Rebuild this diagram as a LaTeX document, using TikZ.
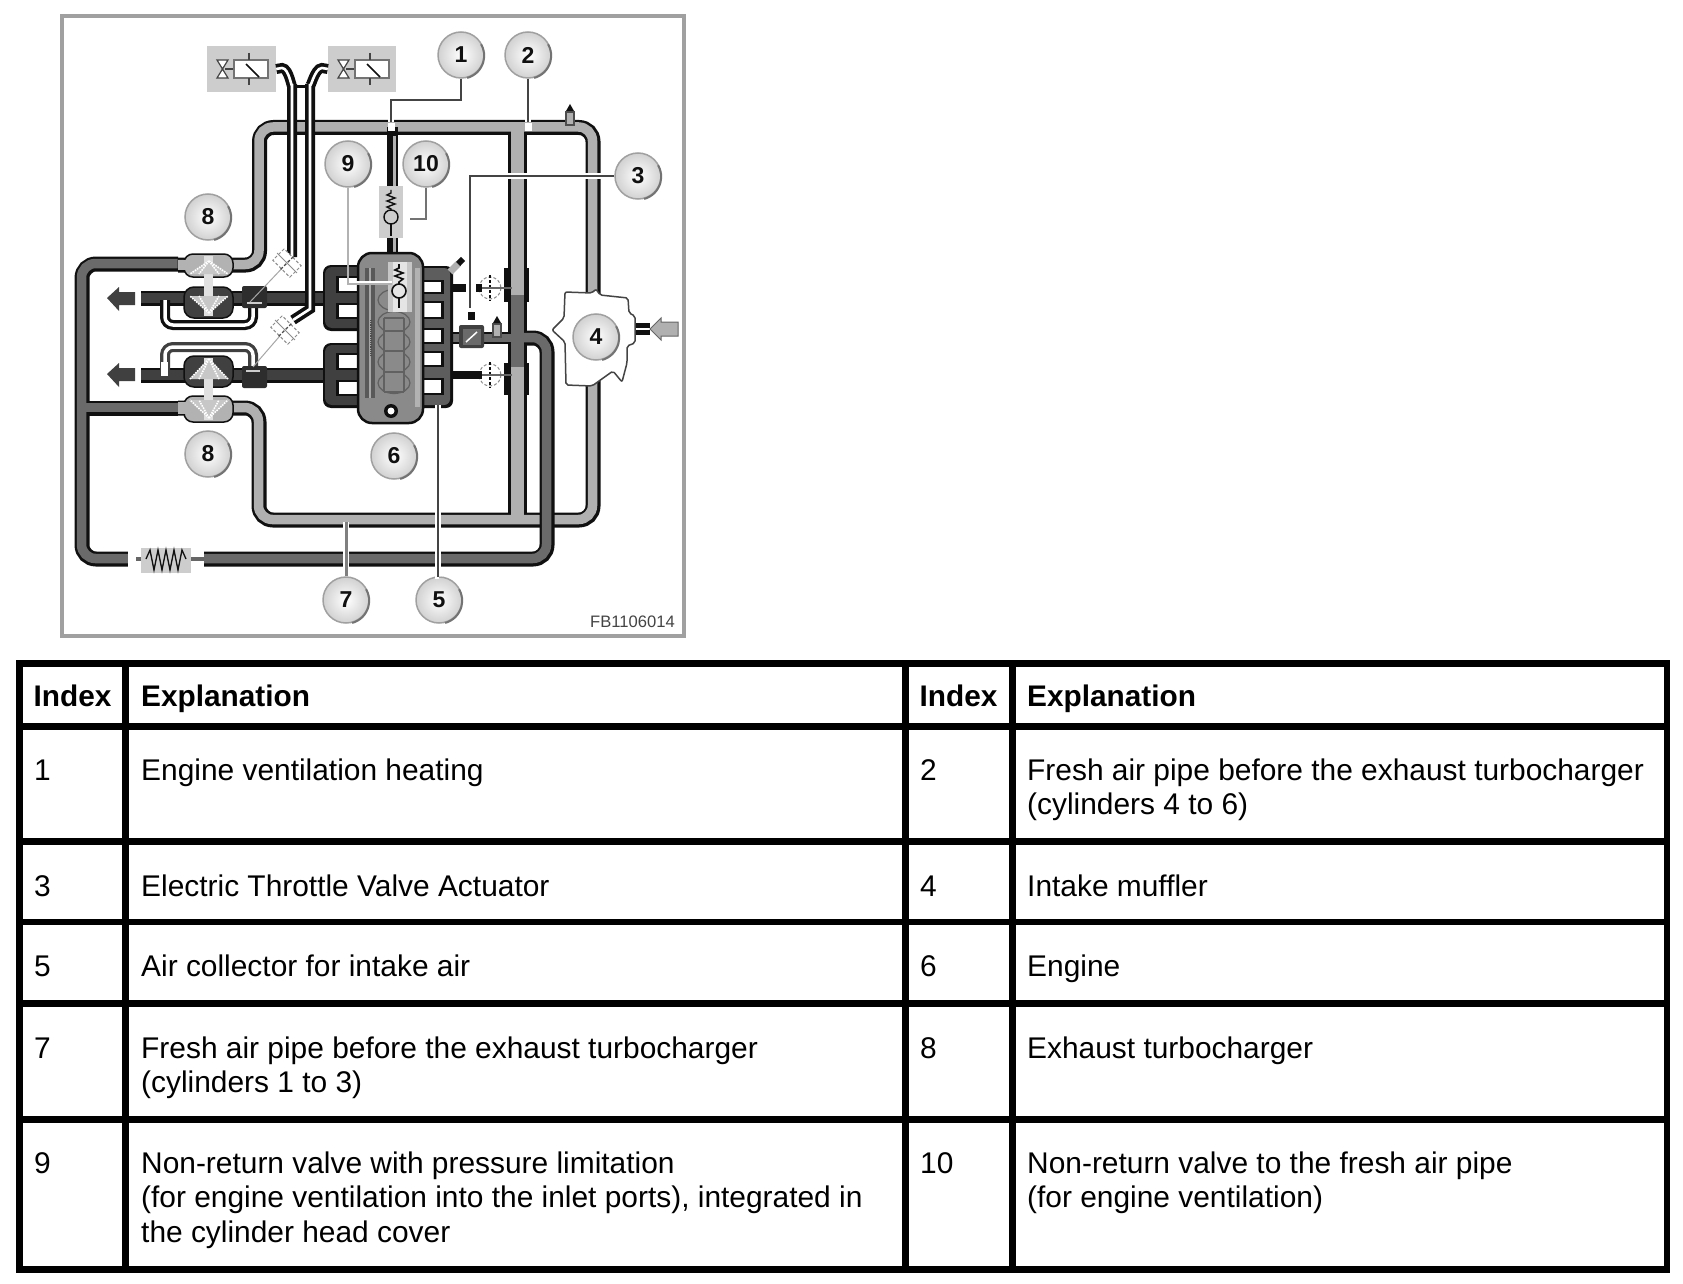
\documentclass[tikz,border=0pt]{standalone}
\usepackage{fontspec}
\setmainfont{Liberation Sans}
\definecolor{lgt}{HTML}{B0B0B0}
\definecolor{drk}{HTML}{6A6A6A}
\definecolor{exh}{HTML}{404040}
\definecolor{ink}{HTML}{101010}
\definecolor{frame}{HTML}{A0A0A0}
\definecolor{boxg}{HTML}{CDCDCD}
\definecolor{lead}{HTML}{444444}
\tikzset{
  x=1pt,y=-1pt,
  rowrule/.style={black,line width=6.6pt},
  cell/.style={anchor=base west,inner sep=0pt,align=left,font=\fontsize{29.9}{34.6}\selectfont},
  head/.style={cell,font=\fontsize{29.8}{34.6}\selectfont\bfseries},
  badge/.style={circle,minimum size=46pt,inner sep=0pt,draw=frame,line width=1.5pt,inner color=white,outer color=black!18,
     font=\fontsize{23}{23}\selectfont\bfseries,text=ink},
  leader/.style={draw=lead,line width=2pt,preaction={draw=white,line width=5.5pt}},
  vbox/.style={draw=none,fill=boxg,inner sep=0pt,rectangle},
  rc/.style={rounded corners=14pt},
  sym/.style={draw=lead,line width=1.4pt},
  dashv/.style={draw=black!45,line width=1pt,fill=white,densely dashed},
}
\newcommand{\Badge}[4]{\node[badge] (#1) at (#2,#3) {#4};
  \draw[black!55,line width=2pt] (#1.-75) arc[start angle=75,end angle=-30,radius=23];}
\newcommand{\Sensor}[2]{\fill[black!70] (#1-5,#2-4) rectangle (#1+5,#2+11); \fill[lgt] (#1-3,#2-2) rectangle (#1+3,#2+9);
  \fill[ink] (#1-4,#2-4) -- (#1,#2-11) -- (#1+4,#2-4) -- cycle;}
\newcommand{\SolSym}[2]{% #1 left x, #2 top y (rect top)
  \draw[lead,line width=1.2pt,fill=white] (#1-17,#2) -- (#1-6,#2) -- (#1-17,#2+18) -- (#1-6,#2+18) -- cycle;
  \draw[lead,line width=1.5pt] (#1-9,#2+9) -- (#1,#2+9);
  \draw[black!55,line width=2pt,fill=white] (#1,#2) rectangle (#1+34,#2+18);
  \draw[lead,line width=1.5pt] (#1+15,#2-7) -- (#1+15,#2-0) (#1+15,#2+18) -- (#1+15,#2+25);
  \draw[ink,line width=1.5pt] (#1+12,#2+4) -- (#1+25,#2+17);}
\newcommand{\DashValve}[3]{\begin{scope}[shift={(#1,#2)},rotate=#3]
  \draw[dashv] (-12,-8) rectangle (12,8); \draw[black!45,line width=1pt] (-14,0) -- (14,0); \draw[black!70,line width=1.4pt,densely dashed] (0,-9) -- (0,9);\end{scope}}
\newcommand{\DashCirc}[2]{\draw[dashv] (#1,#2) circle[radius=11];
  \draw[ink,line width=2pt,densely dashed] (#1,#2-13) -- (#1,#2+13);
  \draw[black!60,line width=1.5pt] (#1-10,#2) -- (#1+22,#2);
  \fill[ink] (#1-14,#2-4) rectangle (#1-8,#2+4);}
\newcommand{\Fan}[6]{\fill[black!22] (#1,#2) -- (#3,#4) -- (#5,#6) -- cycle;
  \draw[white,line width=1.6pt,densely dotted] (#1,#2) -- (#3,#4) (#1,#2) -- (#5,#6) (#1,#2) -- (199,#4) (#1,#2) -- (219,#4);}
\begin{document}
\begin{tikzpicture}
\useasboundingbox (0,0) rectangle (1683,1284);
\fill[white] (0,0) rectangle (1683,1284);
% frame
\draw[frame,line width=4pt] (62,16) rectangle (684,636);

% ---- fresh air pipes (light)
\def\pA{(178,265) -- (259.5,265) -- (259.5,127.5) -- (593,127.5) -- (593,520) -- (259,520) -- (259,408) -- (178,408)}
\draw[ink,line width=15pt,rc] \pA;
\draw[ink,line width=19pt] (517,127.5) -- (517,520);
\draw[lgt,line width=9.5pt,rc,shift={(-.5,-.5)}] \pA;
\draw[lgt,line width=13pt] (517,122) -- (517,523);

% vent pipe
\draw[ink,line width=11pt] (392,127) -- (392,255);
\draw[black!30,line width=3pt] (394,136) -- (394,255);

% sensor on pipe
\Sensor{570}{115}

% ---- muffler
\draw[lead,line width=1.5pt,fill=white,rounded corners=2pt] (565,292) -- (592,293) -- (596,289) -- (600,295) -- (628,298) -- (629,313) -- (635,316) -- (635,343) -- (627,346) -- (627,363) -- (622,382) -- (613,371) -- (592,386) -- (566,385) -- (565,342) -- (552,330) -- (564,318) -- cycle;
\draw[ink,line width=12pt] (636,329) -- (650,329);
\draw[white,line width=2pt] (636,329) -- (650,329);
\fill[lgt,draw=black!60,line width=1pt] (650,329) -- (661,318) -- (661,322) -- (678,322) -- (678,336) -- (661,336) -- (661,340) -- cycle;

% ---- charge air pipes (dark)
\def\pD{(178,264) -- (82,264) -- (82,559) -- (547,559) -- (547,338) -- (517,338)}
\draw[ink,line width=15pt,rc] \pD;
\draw[ink,line width=15pt] (82,408) -- (178,408);
\draw[ink,line width=12pt] (448,338) -- (517,338);
\draw[drk,line width=9.5pt,rc,shift={(-.5,-.5)}] \pD;
\draw[drk,line width=9.5pt] (82,407.5) -- (178,407.5);
\draw[drk,line width=13pt] (517,295) -- (517,367);
\draw[drk,line width=8pt] (448,338) -- (517,338);

% spring in pipe
\fill[white] (128,548) rectangle (204,572);
\fill[black!60] (136,557) rectangle (204,561);
\fill[boxg] (141,548) rectangle (191,573);
\draw[ink,line width=1.3pt] (146,559) -- (150,550) -- (154,570) -- (158,550) -- (162,570) -- (166,550) -- (170,570) -- (174,550) -- (178,570) -- (182,550) -- (186,559);

% clamps
\foreach \ya/\yb in {268/302,363/395}{
  \fill[ink] (504,\ya) rectangle (510.5,\yb);
  \fill[ink] (523.5,\ya) rectangle (529,\yb);
}
\DashCirc{490}{288}
\DashCirc{490}{375}
\draw[ink,line width=8pt] (450,288) -- (466,288);
\draw[ink,line width=8pt] (450,375) -- (478,375);

% ---- exhaust side
\draw[ink,line width=15pt] (141,298) -- (330,298);
\draw[exh,line width=10pt] (141,297.5) -- (330,297.5);
\draw[ink,line width=15pt] (141,375) -- (330,375);
\draw[exh,line width=10pt] (141,374.5) -- (330,374.5);
\foreach \dy in {0,76}{
  \fill[exh] (107,298+\dy) -- (119,287+\dy) -- (119,292+\dy) -- (135,292+\dy) -- (135,305+\dy) -- (119,305+\dy) -- (119,311+\dy) -- cycle;
}

% left manifolds
\fill[ink,rounded corners=8pt] (323,265) rectangle (365,331);
\fill[exh,rounded corners=7pt] (325,267) rectangle (365,328);
\fill[ink,rounded corners=8pt] (323,343) rectangle (365,408);
\fill[exh,rounded corners=7pt] (325,345) rectangle (365,405);
\foreach \ya/\yb in {278/291,305/317,355/368,382/394}{
  \fill[ink] (336,\ya-2) rectangle (360,\yb+2);
  \fill[white] (339,\ya) rectangle (360,\yb);
}

% right manifold
\fill[ink,rounded corners=7pt] (415,266) rectangle (453,408);
\fill[exh!85!white,rounded corners=6pt] (415,268) rectangle (450,405);
\foreach \ya/\yb in {282/292,303/317,330/342,353/365,380/393}{
  \fill[ink] (420,\ya-2) rectangle (444,\yb+2);
  \fill[white] (420,\ya) rectangle (441,\yb);
}
% throttle
\fill[exh,rounded corners=2pt] (459,325) rectangle (484,348);
\fill[drk] (463,329) rectangle (481,345);
\draw[white,line width=1.5pt] (466,342) -- (477,332);
\Sensor{497}{327}
\fill[ink] (468,312) rectangle (475,320);
% diagonal sensor
\draw[lgt,line width=7pt] (450,272) -- (458,264);
\draw[ink,line width=6pt] (458,264) -- (463,259);

% ---- engine
\draw[ink,line width=2.5pt,fill=black!46,rounded corners=14pt] (358,253) rectangle (423,423);
\fill[black!65] (365,268) rectangle (375,398);
\fill[black!35] (369,268) rectangle (371,398);
\fill[black!30] (415,268) rectangle (420,407);
\foreach \yy in {300,322,342,362,383}{
  \draw[black!62,line width=1.2pt] (394,\yy) ellipse[x radius=16,y radius=10.5];
}
\fill[black!46] (384,318) rectangle (404,392);
\draw[black!62,line width=1.2pt] (384,318) -- (384,392) (404,318) -- (404,392);
\foreach \yy in {318,331,351,372,392}{ \draw[black!62,line width=1.2pt] (384,\yy) -- (404,\yy); }
\draw[black!70,line width=1.2pt,densely dotted] (371,320) -- (371,356);
\fill[black!22] (388,262) rectangle (412,312);
\fill[black!10] (393,262) rectangle (407,312);
\draw[ink,line width=1.6pt] (399,264) -- (399,268) -- (395,270) -- (403,273) -- (395,276) -- (403,279) -- (399,282) -- (399,284);
\draw[ink,line width=1.6pt,fill=black!10] (399,291) circle[radius=7];
\draw[ink,line width=1.6pt] (399,298) -- (399,308);
\fill[ink] (391,411) circle[radius=7];
\fill[white] (391,411) circle[radius=3.5];

% non-return valve on vent pipe
\node[vbox,minimum width=24pt,minimum height=52pt] (nrv) at (391,212) {};
\draw[ink,line width=1.4pt] (391,190) -- (391,193) -- (387,195) -- (395,198) -- (387,201) -- (395,204) -- (387,207) -- (391,209) -- (391,210);
\draw[ink,line width=1.4pt,fill=boxg] (391,217) circle[radius=7];
\draw[ink,line width=1.4pt] (391,224) -- (391,236);

% ---- bypass loops
\draw[ink,line width=10pt,rounded corners=8pt] (165,300) -- (165,325) -- (253,325) -- (253,305);
\draw[white,line width=3.5pt,rounded corners=8pt] (165,300) -- (165,325) -- (253,325) -- (253,305);
\draw[exh,line width=10pt,rounded corners=8pt] (165,370) -- (165,347) -- (253,347) -- (253,368);
\draw[white,line width=3.5pt,rounded corners=8pt] (165,375) -- (165,347) -- (253,347) -- (253,368);
\fill[white] (161,362) rectangle (168,376);

% wastegates
\fill[exh!70!black,rounded corners=2pt] (242,286) rectangle (267,308);
\fill[exh!70!black,rounded corners=2pt] (242,366) rectangle (267,388);
\draw[black!20,line width=2pt] (247,303) -- (262,303);
\draw[black!20,line width=2pt] (246,371) -- (260,371);
\draw[black!35,line width=1pt] (250,302) -- (287,263);
\draw[black!35,line width=1pt] (253,367) -- (285,330);

% ---- turbochargers
\draw[ink,line width=1.5pt,fill=black!30,rounded corners=9pt] (184,254) rectangle (233,277);
\fill[black!30] (178,260) rectangle (190,270);
\draw[ink,line width=1.5pt,fill=exh,rounded corners=10pt] (184,287) rectangle (233,318);
\fill[black!12] (204,256) rectangle (213,316);
\Fan{209}{261}{190}{274}{228}{274}
\Fan{209}{313}{190}{296}{228}{296}
\draw[ink,line width=1.5pt,fill=exh,rounded corners=10pt] (184,356) rectangle (233,387);
\draw[ink,line width=1.5pt,fill=black!30,rounded corners=9pt] (184,396) rectangle (233,422);
\fill[black!30] (178,402) rectangle (190,414);
\fill[black!12] (204,358) rectangle (213,420);
\Fan{209}{359}{190}{379}{228}{379}
\Fan{209}{418}{190}{400}{228}{400}

% ---- solenoid boxes and vacuum lines
\node[vbox,minimum width=69pt,minimum height=46pt] (vb1) at (241.5,69) {};
\node[vbox,minimum width=68pt,minimum height=46pt] (vb2) at (362,69) {};
\SolSym{234}{60}
\SolSym{355}{60}
\coordinate (vs1) at (292,257);
\coordinate (vs2) at (293,320);
\draw[ink,line width=3pt] (295,87) -- (308,87);
\def\vA{(vb1.east) -- (282,68) to[out=0,in=-90] (292,84) -- (vs1)}
\def\vB{(vb2.west) -- (322,68) to[out=180,in=-90] (310,84) -- (310,309) -- (vs2)}
\draw[ink,line width=10pt] \vA;
\draw[ink,line width=10pt] \vB;
\draw[white,line width=2.6pt] \vA;
\draw[white,line width=2.6pt] \vB;
\DashValve{287}{263}{-45}
\DashValve{285}{330}{-45}

% ---- leaders and badges
\Badge{b1}{461}{55}{1}
\Badge{b2}{528}{55}{2}
\Badge{b3}{638}{176}{3}
\Badge{b4}{596}{337}{4}
\Badge{b5}{439}{600}{5}
\Badge{b6}{394}{456}{6}
\Badge{b7}{346}{600}{7}
\Badge{b8a}{208}{217}{8}
\Badge{b8b}{208}{454}{8}
\Badge{b9}{348}{164}{9}
\Badge{b10}{426}{164}{10}
\coordinate (k1) at (391,100); \coordinate (e1) at (391,122);
\coordinate (e2) at (528,122);
\coordinate (k3) at (470,177); \coordinate (e3) at (470,308);
\coordinate (e5) at (438,405);
\coordinate (e7) at (346,522);
\coordinate (k9) at (348,284); \coordinate (e9) at (392,284);
\coordinate (k10) at (427,219); \coordinate (e10) at (410,219);
\draw[leader] (b1.south) -- (b1.south |- k1) -- (k1) -- (e1);
\fill[white] (388,123) rectangle (395,131);
\draw[leader] (b2.south) -- (e2);
\fill[white] (525,123) rectangle (532,131);
\draw[leader] (b3.west) -- (b3.west -| k3) -- (e3);
\draw[leader] (b5.north) -- (b5.north -| e5) -- (e5);
\draw[black!50,line width=3pt,preaction={draw=white,line width=6pt}] (b7.north) -- (e7);
\draw[black!30,line width=2.5pt] (b9.south) -- (k9) -- (e9);
\draw[white,line width=2.5pt] (350,282) -- (392,282);
\draw[black!55,line width=2pt] (b10.south) -- (b10.south |- k10) -- (e10);
\node[anchor=base east,inner sep=0pt,font=\fontsize{16.6}{17}\selectfont,text=lead] (code) at (675,627.5) {FB1106014};

% ---- table
\draw[rowrule] (19.5,663.2) rectangle (1667,1269.5);
\draw[rowrule] (125.5,663) -- (125.5,1269.5);
\draw[rowrule] (905.5,663) -- (905.5,1269.5);
\draw[rowrule] (1012.5,663) -- (1012.5,1269.5);
\foreach \yy in {726.5,841.5,922,1003.5,1119.5}{ \draw[rowrule] (19.5,\yy) -- (1667,\yy); }

\node[head] (h1) at (33.5,706) {Index};
\node[head] (h2) at (141,706) {Explanation};
\node[head] (h3) at (919.5,706) {Index};
\node[head] (h4) at (1027,706) {Explanation};

\node[cell] (i1) at (34,780) {1};
\node[cell] (t1) at (141,780) {Engine ventilation heating};
\node[cell] (i2) at (920,780) {2};
\node[cell] (t2) at (1027,814.6) {Fresh air pipe before the exhaust turbocharger\\(cylinders 4 to 6)};
\node[cell] (i3) at (34,896) {3};
\node[cell] (t3) at (141,896) {Electric Throttle Valve Actuator};
\node[cell] (i4) at (920,896) {4};
\node[cell] (t4) at (1027,896) {Intake muffler};
\node[cell] (i5) at (34,976.5) {5};
\node[cell] (t5) at (141,976.5) {Air collector for intake air};
\node[cell] (i6) at (920,976.5) {6};
\node[cell] (t6) at (1027,976.5) {Engine};
\node[cell] (i7) at (34,1058) {7};
\node[cell] (t7) at (141,1092.6) {Fresh air pipe before the exhaust turbocharger\\(cylinders 1 to 3)};
\node[cell] (i8) at (920,1058) {8};
\node[cell] (t8) at (1027,1058) {Exhaust turbocharger};
\node[cell] (i9) at (34,1173) {9};
\node[cell] (t9) at (141,1242.2) {Non-return valve with pressure limitation\\(for engine ventilation into the inlet ports), integrated in\\the cylinder head cover};
\node[cell] (i10) at (920,1173) {10};
\node[cell] (t10) at (1027,1207.6) {Non-return valve to the fresh air pipe\\(for engine ventilation)};
\end{tikzpicture}
\end{document}
